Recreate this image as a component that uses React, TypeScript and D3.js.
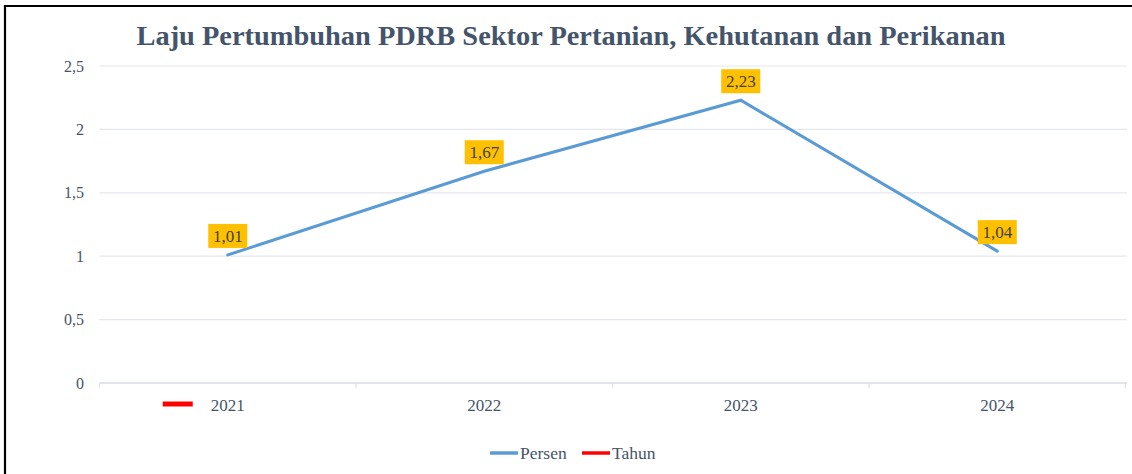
import React from "react";
import * as d3 from "d3";

const years = ["2021", "2022", "2023", "2024"];
const persen = [1.01, 1.67, 2.23, 1.04];
const yTicks = [0, 0.5, 1, 1.5, 2, 2.5];
const legendItems = [
  { name: "Persen", color: "#5B9BD5" },
  { name: "Tahun", color: "#FF0000" },
];
const titleText = "Laju Pertumbuhan PDRB Sektor Pertanian, Kehutanan dan Perikanan";

const W = 1132;
const H = 474;
const FONT = "'Liberation Serif', 'DejaVu Serif', serif";

export default function App() {
  const x = d3.scaleBand<string>().domain(years).range([99.5, 1125.5]).padding(0);
  const y = d3.scaleLinear().domain([0, 2.5]).range([383, 66]);
  const cx = (yr: string) => (x(yr) as number) + x.bandwidth() / 2;
  const line = d3
    .line<number>()
    .x((_, i) => cx(years[i]))
    .y((d) => y(d));
  const fmt = (v: number) => v.toFixed(2).replace(".", ",");
  const tickFmt = (v: number) => String(v).replace(".", ",");

  return (
    <svg
      width={W}
      height={H}
      style={{ position: "absolute", left: 0, top: 0, background: "#fff" }}
      fontFamily={FONT}
    >
      <rect x={0} y={0} width={W} height={H} fill="#fff" />
      {/* frame */}
      <line x1={4.5} y1={6} x2={W} y2={6} stroke="#000" strokeWidth={2.2} />
      <line x1={5} y1={5} x2={5} y2={H} stroke="#000" strokeWidth={2.2} />

      {/* title */}
      <text
        x={571}
        y={45}
        textAnchor="middle"
        fontSize={28}
        fontWeight="bold"
        fill="#44546A"
        textLength={869}
        lengthAdjust="spacingAndGlyphs"
      >
        {titleText}
      </text>

      {/* gridlines */}
      {yTicks.map((t) => (
        <line
          key={"g" + t}
          x1={99.5}
          x2={1127}
          y1={y(t)}
          y2={y(t)}
          stroke={t === 0 ? "#D9DCE1" : "#E4E7EC"}
          strokeWidth={t === 0 ? 1.5 : 1.2}
        />
      ))}
      {/* category ticks */}
      {years.map((yr) => (
        <line
          key={"t" + yr}
          x1={x(yr) as number}
          x2={x(yr) as number}
          y1={383}
          y2={388}
          stroke="#D9DCE1"
          strokeWidth={1}
        />
      ))}
      <line x1={1125.5} x2={1125.5} y1={383} y2={388} stroke="#D9DCE1" strokeWidth={1} />

      {/* y tick labels */}
      {yTicks.map((t) => (
        <text
          key={"yl" + t}
          x={84}
          y={y(t)}
          dy="0.35em"
          textAnchor="end"
          fontSize={16}
          fill="#44546A"
        >
          {tickFmt(t)}
        </text>
      ))}

      {/* x labels */}
      {years.map((yr) => (
        <text
          key={"xl" + yr}
          x={cx(yr)}
          y={411}
          textAnchor="middle"
          fontSize={17}
          fill="#44546A"
        >
          {yr}
        </text>
      ))}
      {/* red Tahun key near first category */}
      <line
        x1={cx(years[0]) - 65}
        x2={cx(years[0]) - 35}
        y1={404}
        y2={404}
        stroke="#FF0000"
        strokeWidth={5}
      />

      {/* line */}
      <path d={line(persen) || ""} fill="none" stroke="#5B9BD5" strokeWidth={3} strokeLinecap="round" />

      {/* data labels */}
      {persen.map((v, i) => {
        const px = cx(years[i]);
        const py = y(v);
        const bw = 39;
        const bh = 24;
        const by = py - 7 - bh;
        return (
          <g key={"dl" + i}>
            <rect x={px - bw / 2} y={by} width={bw} height={bh} fill="#FFC000" />
            <text
              x={px}
              y={by + bh / 2}
              dy="0.35em"
              textAnchor="middle"
              fontSize={17}
              fill="#404040"
            >
              {fmt(v)}
            </text>
          </g>
        );
      })}

      {/* legend */}
      {legendItems.map((it, i) => {
        const lx = i === 0 ? 490 : 582;
        return (
          <g key={"lg" + it.name}>
            <line x1={lx} x2={lx + 28} y1={453} y2={453} stroke={it.color} strokeWidth={3.5} />
            <text x={lx + 30} y={453} dy="0.35em" fontSize={17.5} fill="#44546A">
              {it.name}
            </text>
          </g>
        );
      })}
    </svg>
  );
}
